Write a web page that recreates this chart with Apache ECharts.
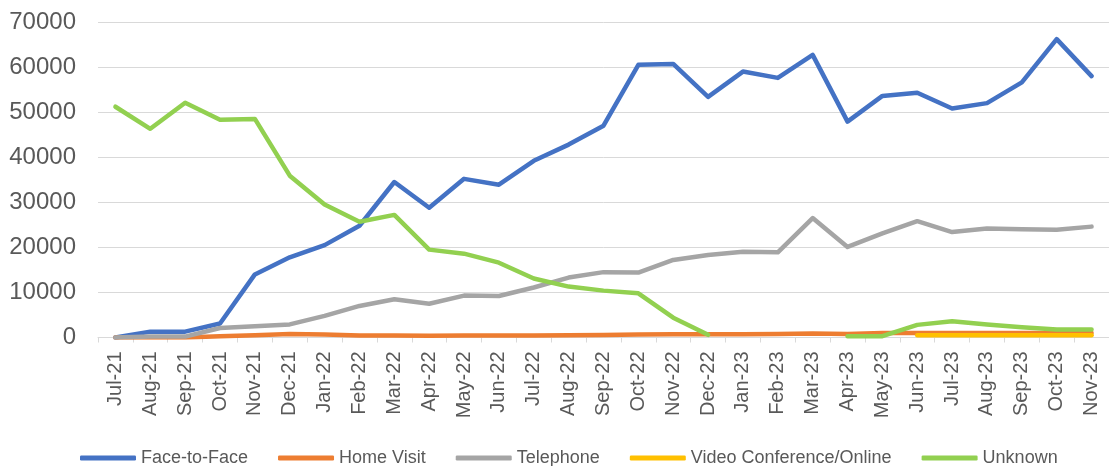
<!DOCTYPE html>
<html>
<head>
<meta charset="utf-8">
<script src="https://cdn.jsdelivr.net/npm/echarts@6/dist/echarts.min.js"></script>
<style>
  html, body { margin: 0; padding: 0; background: #ffffff; }
  #chart { width: 1109px; height: 466px; }
</style>
</head>
<body>
<div id="chart"></div>
<script>
// Monthly contacts by contact type
const months = [
  'Jul-21','Aug-21','Sep-21','Oct-21','Nov-21','Dec-21',
  'Jan-22','Feb-22','Mar-22','Apr-22','May-22','Jun-22','Jul-22','Aug-22','Sep-22','Oct-22','Nov-22','Dec-22',
  'Jan-23','Feb-23','Mar-23','Apr-23','May-23','Jun-23','Jul-23','Aug-23','Sep-23','Oct-23','Nov-23'
];

const faceToFace = [
  0, 1300, 1300, 3100, 14000, 17800,
  20500, 24800, 34500, 28800, 35200, 33900, 39200, 42800, 47000, 60500, 60700, 53400,
  59000, 57600, 62700, 47900, 53600, 54300, 50800, 52000, 56600, 66200, 58000
];

const homeVisit = [
  0, 0, 0, 300, 500, 750,
  650, 450, 450, 400, 450, 450, 450, 500, 550, 650, 700, 700,
  700, 750, 900, 800, 1000, 1000, 1000, 1000, 1000, 1000, 1000
];

const telephone = [
  0, 200, 200, 2100, 2500, 2900,
  4800, 7000, 8500, 7500, 9300, 9200, 11100, 13300, 14500, 14400, 17200, 18300,
  19000, 18900, 26500, 20100, 23100, 25800, 23400, 24200, 24000, 23900, 24600
];

const videoOnline = [
  null, null, null, null, null, null,
  null, null, null, null, null, null, null, null, null, null, null, null,
  null, null, null, null, null, 500, 500, 500, 500, 500, 500
];

const unknown = [
  51200, 46300, 52100, 48300, 48500, 35900,
  29500, 25700, 27200, 19500, 18600, 16600, 13100, 11300, 10400, 9800, 4400, 600,
  null, null, null, 300, 300, 2800, 3600, 2900, 2300, 1800, 1800
];

const yTicks = { min: 0, max: 70000, interval: 10000 };

const seriesDefs = [
  { name: 'Face-to-Face', data: faceToFace, color: '#4472C4' },
  { name: 'Home Visit', data: homeVisit, color: '#ED7D31' },
  { name: 'Telephone', data: telephone, color: '#A5A5A5' },
  { name: 'Video Conference/Online', data: videoOnline, color: '#FFC000' },
  { name: 'Unknown', data: unknown, color: '#92D050' }
];

const textColor = '#595959';
const gridColor = '#D9D9D9';
const fontFamily = 'Liberation Sans, Arial, sans-serif';

const chart = echarts.init(document.getElementById('chart'), null, { renderer: 'canvas' });

chart.setOption({
  animation: false,
  backgroundColor: '#ffffff',
  textStyle: { fontFamily: fontFamily },
  grid: { left: 98, right: -7, top: 22, bottom: 128.5, containLabel: false },
  legend: {
    left: 80,
    top: 449,
    padding: 0,
    itemWidth: 56,
    itemHeight: 5,
    itemGap: 30,
    icon: 'roundRect',
    textStyle: { color: textColor, fontSize: 18, fontFamily: fontFamily },
    data: seriesDefs.map(s => s.name)
  },
  xAxis: {
    type: 'category',
    data: months,
    boundaryGap: true,
    axisLine: { show: true, lineStyle: { color: gridColor, width: 1 } },
    axisTick: { show: true, alignWithLabel: false, length: 5, lineStyle: { color: gridColor } },
    axisLabel: { rotate: 90, margin: 14, color: textColor, fontSize: 20, fontFamily: fontFamily, interval: 0 },
    splitLine: { show: false }
  },
  yAxis: {
    type: 'value',
    min: yTicks.min,
    max: yTicks.max,
    interval: yTicks.interval,
    axisLine: { show: false },
    axisTick: { show: false },
    axisLabel: {
      margin: 22, color: textColor, fontSize: 24, fontFamily: fontFamily,
      formatter: v => String(v)
    },
    splitLine: { show: true, lineStyle: { color: gridColor, width: 1 } }
  },
  series: seriesDefs.map(s => ({
    name: s.name,
    type: 'line',
    data: s.data,
    showSymbol: false,
    symbol: 'none',
    connectNulls: false,
    color: s.color,
    lineStyle: { color: s.color, width: 4.5, cap: 'round', join: 'round' },
    itemStyle: { color: s.color },
    emphasis: { disabled: true }
  }))
});
</script>
</body>
</html>
